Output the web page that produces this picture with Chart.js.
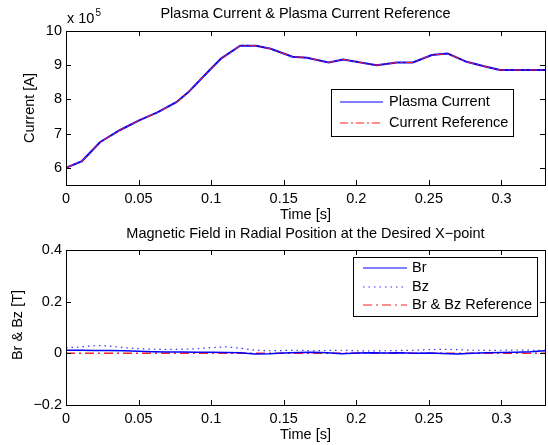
<!DOCTYPE html>
<html>
<head>
<meta charset="utf-8">
<script src="https://cdn.jsdelivr.net/npm/chart.js@4.4.1/dist/chart.umd.min.js"></script>
<style>
  body { margin: 0; background: #fff; }
  #wrap { position: relative; width: 548px; height: 445px; }
  canvas { position: absolute; left: 0; }
</style>
</head>
<body>
<div id="wrap">
  <canvas id="currentChart" width="548" height="222" style="top:0"></canvas>
  <canvas id="fieldChart" width="548" height="223" style="top:222px"></canvas>
</div>
<script>
// Top plot data (current in units of 10^5 A)
const curTime = [0, 0.011, 0.0234, 0.037, 0.05, 0.063, 0.076, 0.084, 0.099, 0.107, 0.12, 0.131, 0.141,
  0.156, 0.166, 0.181, 0.191, 0.214, 0.228, 0.239, 0.252, 0.263, 0.276, 0.288, 0.299, 0.33];
const plasmaCurrent = [6.0, 6.2, 6.75, 7.1, 7.38, 7.62, 7.92, 8.2, 8.86, 9.2, 9.57, 9.57, 9.48,
  9.25, 9.22, 9.08, 9.17, 9.0, 9.08, 9.08, 9.3, 9.34, 9.1, 8.97, 8.86, 8.86];
const currentRef = [6.0, 6.2, 6.75, 7.1, 7.38, 7.62, 7.92, 8.2, 8.86, 9.2, 9.57, 9.57, 9.48,
  9.25, 9.22, 9.08, 9.17, 9.0, 9.08, 9.08, 9.3, 9.34, 9.1, 8.97, 8.86, 8.86];

// Bottom plot data (tesla)
const fieldTime = [0, 0.01, 0.02, 0.03, 0.04, 0.05, 0.06, 0.07, 0.08, 0.09, 0.1, 0.11, 0.12, 0.13,
  0.14, 0.15, 0.16, 0.17, 0.18, 0.19, 0.2, 0.21, 0.22, 0.23, 0.24, 0.25, 0.26, 0.27, 0.28, 0.29,
  0.3, 0.31, 0.32, 0.33];
const br = [0.012, 0.012, 0.011, 0.011, 0.010, 0.008, 0.006, 0.005, 0.005, 0.004, 0.004, 0.003,
  0.002, -0.003, -0.002, 0.001, 0.003, 0.004, 0.002, -0.002, 0.001, 0.002, 0.001, 0.002, 0.0,
  0.001, -0.001, -0.003, 0.0, 0.002, 0.003, 0.004, 0.006, 0.010];
const bz = [0.022, 0.025, 0.030, 0.028, 0.022, 0.018, 0.016, 0.015, 0.016, 0.018, 0.022, 0.025,
  0.020, 0.012, 0.010, 0.011, 0.012, 0.010, 0.011, 0.012, 0.010, 0.009, 0.010, 0.011, 0.012,
  0.014, 0.016, 0.014, 0.012, 0.011, 0.012, 0.013, 0.012, 0.012];
const bRef = [0, 0, 0, 0, 0, 0, 0, 0, 0, 0, 0, 0, 0, 0, 0, 0, 0, 0, 0, 0, 0, 0, 0, 0, 0, 0, 0, 0,
  0, 0, 0, 0, 0, 0];

// Tick values
const timeTicks = [0, 0.05, 0.1, 0.15, 0.2, 0.25, 0.3];
const currentTicks = [6, 7, 8, 9, 10];
const fieldTicks = [-0.2, 0, 0.2, 0.4];

const FONT = '"Liberation Sans", Arial, Helvetica, sans-serif';
const FS = 14.5;

function pts(xs, ys) {
  return xs.map((x, i) => ({ x: x, y: ys[i] }));
}

function fmt(v) {
  return String(v).replace('-', '\u2212');
}

// Draws the MATLAB-style frame, inward ticks, titles and legend
const matlabDecor = {
  id: 'matlabDecor',
  afterDraw(chart, args, opts) {
    const ctx = chart.ctx;
    const a = chart.chartArea;
    const xs = chart.scales.x;
    const ys = chart.scales.y;
    ctx.save();
    ctx.strokeStyle = '#000';
    ctx.lineWidth = 1;
    ctx.setLineDash([]);
    ctx.strokeRect(Math.round(a.left) + 0.5, Math.round(a.top) + 0.5,
      Math.round(a.right - a.left), Math.round(a.bottom - a.top));
    const tl = 5;
    ctx.beginPath();
    xs.ticks.forEach(t => {
      const px = Math.round(xs.getPixelForValue(t.value)) + 0.5;
      ctx.moveTo(px, a.bottom); ctx.lineTo(px, a.bottom - tl);
      ctx.moveTo(px, a.top); ctx.lineTo(px, a.top + tl);
    });
    ys.ticks.forEach(t => {
      const py = Math.round(ys.getPixelForValue(t.value)) + 0.5;
      ctx.moveTo(a.left, py); ctx.lineTo(a.left + tl, py);
      ctx.moveTo(a.right, py); ctx.lineTo(a.right - tl, py);
    });
    ctx.stroke();

    // texts
    ctx.fillStyle = '#000';
    ctx.font = FS + 'px ' + FONT;
    ctx.textAlign = 'center';
    ctx.textBaseline = 'middle';
    const cx = (a.left + a.right) / 2;
    ctx.fillText(opts.title, cx, opts.titleY);
    ctx.fillText(opts.xTitle, cx, opts.xTitleY);
    ctx.save();
    ctx.translate(opts.yTitleX, opts.yTitleY);
    ctx.rotate(-Math.PI / 2);
    ctx.fillText(opts.yTitle, 0, 0);
    ctx.restore();
    if (opts.exponent) {
      ctx.textAlign = 'left';
      ctx.fillText('x 10', 67, 19);
      const w = ctx.measureText('x 10').width;
      ctx.font = '10px ' + FONT;
      ctx.fillText(opts.exponent, 67 + w + 1, 13);
    }

    // legend
    const L = opts.legend;
    ctx.fillStyle = '#fff';
    ctx.fillRect(L.x, L.y, L.w, L.h);
    ctx.strokeStyle = '#000';
    ctx.lineWidth = 1;
    ctx.setLineDash([]);
    ctx.strokeRect(L.x + 0.5, L.y + 0.5, L.w, L.h);
    ctx.font = FS + 'px ' + FONT;
    ctx.textAlign = 'left';
    chart.data.datasets.forEach((ds, i) => {
      const ry = L.rows[i];
      const o = chart.getDatasetMeta(i).dataset.options;
      ctx.save();
      ctx.strokeStyle = o.borderColor;
      ctx.lineWidth = Math.min(o.borderWidth, 1.2);
      ctx.setLineDash(o.borderDash || []);
      ctx.beginPath();
      ctx.moveTo(L.lineX0, ry);
      ctx.lineTo(L.lineX1, ry);
      ctx.stroke();
      ctx.restore();
      ctx.fillStyle = '#000';
      ctx.fillText(ds.label, L.textX, ry);
    });
    ctx.restore();
  }
};

function makeScales(xTicks, yTicks, yMin, yMax, xHeight) {
  return {
    x: {
      type: 'linear', min: 0, max: 0.33,
      grid: { display: false, drawTicks: false },
      border: { display: false },
      afterFit: s => { s.height = xHeight; },
      afterBuildTicks: s => { s.ticks = xTicks.map(v => ({ value: v })); },
      ticks: { padding: 5, color: '#000', font: { family: FONT, size: FS }, maxRotation: 0,
        callback: v => fmt(v) }
    },
    y: {
      type: 'linear', min: yMin, max: yMax,
      grid: { display: false, drawTicks: false },
      border: { display: false },
      afterFit: s => { s.width = 66; },
      afterBuildTicks: s => { s.ticks = yTicks.map(v => ({ value: v })); },
      ticks: { padding: 4, color: '#000', font: { family: FONT, size: FS },
        callback: v => fmt(v) }
    }
  };
}

new Chart(document.getElementById('currentChart'), {
  type: 'line',
  data: {
    datasets: [{
      label: 'Plasma Current',
      data: pts(curTime, plasmaCurrent),
      borderColor: '#0000ff', borderWidth: 2, order: 2
    }, {
      label: 'Current Reference',
      data: pts(curTime, currentRef),
      borderColor: '#ff2020', borderWidth: 1, borderDash: [8, 3, 2, 3], order: 1
    }]
  },
  options: {
    responsive: false, animation: false, devicePixelRatio: 1,
    layout: { padding: { top: 31, right: 3, left: 0, bottom: 0 } },
    elements: { point: { radius: 0 }, line: { tension: 0 } },
    plugins: {
      legend: { display: false }, tooltip: { enabled: false },
      matlabDecor: {
        title: 'Plasma Current & Plasma Current Reference', titleY: 14,
        xTitle: 'Time [s]', xTitleY: 215,
        yTitle: 'Current [A]', yTitleX: 30, yTitleY: 108,
        exponent: '5',
        legend: { x: 331, y: 89, w: 182, h: 47, rows: [102, 123], lineX0: 340, lineX1: 383, textX: 389 }
      }
    },
    scales: makeScales(timeTicks, currentTicks, 5.5, 10, 37)
  },
  plugins: [matlabDecor]
});

new Chart(document.getElementById('fieldChart'), {
  type: 'line',
  data: {
    datasets: [{
      label: 'Br',
      data: pts(fieldTime, br),
      borderColor: '#0000ff', borderWidth: 1.5, order: 1
    }, {
      label: 'Bz',
      data: pts(fieldTime, bz),
      borderColor: '#3030ff', borderWidth: 1.2, borderDash: [1.5, 4], order: 2
    }, {
      label: 'Br & Bz Reference',
      data: pts(fieldTime, bRef),
      borderColor: '#ff2020', borderWidth: 1.5, borderDash: [9, 4, 2, 4], order: 3
    }]
  },
  options: {
    responsive: false, animation: false, devicePixelRatio: 1,
    layout: { padding: { top: 28, right: 3, left: 0, bottom: 0 } },
    elements: { point: { radius: 0 }, line: { tension: 0 } },
    plugins: {
      legend: { display: false }, tooltip: { enabled: false },
      matlabDecor: {
        title: 'Magnetic Field in Radial Position at the Desired X\u2212point', titleY: 12,
        xTitle: 'Time [s]', xTitleY: 213,
        yTitle: 'Br & Bz [T]', yTitleX: 18, yTitleY: 103,
        legend: { x: 353, y: 35, w: 184, h: 59, rows: [46, 65, 83], lineX0: 363, lineX1: 407, textX: 412 }
      }
    },
    scales: makeScales(timeTicks, fieldTicks, -0.2, 0.4, 40)
  },
  plugins: [matlabDecor]
});
</script>
</body>
</html>
